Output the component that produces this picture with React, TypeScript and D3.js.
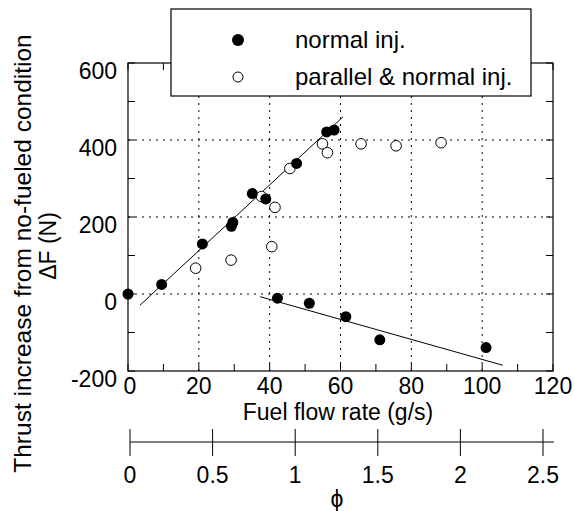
import React from "react";
import * as d3 from "d3";

// ---- data ----
const normalX = [0, 9.5, 21, 29.2, 29.6, 35.1, 38.9, 47.6, 56.1, 58.2, 42.2, 51.2, 61.5, 71.1, 101.1];
const normalY = [0, 25, 130, 176, 186, 261, 247, 339, 421, 426, -11, -24, -59, -119, -139];

const parallelX = [19.1, 29.1, 37.7, 41.5, 40.6, 45.7, 54.9, 56.3, 65.8, 75.7, 88.4];
const parallelY = [67, 88, 253, 225, 123, 326, 390, 367, 390, 385, 393];

// fitted lines (endpoints in data units)
const fit1X = [3.4, 60.7];
const fit1Y = [-29, 460];
const fit2X = [37.3, 105.8];
const fit2Y = [-7, -185];

const xTicks = [0, 20, 40, 60, 80, 100, 120];
const yTicks = [-200, 0, 200, 400, 600];
const xGrid = [20, 40, 60, 80, 100];
const yGrid = [0, 200, 400];
const phiTicks = [0, 0.5, 1, 1.5, 2, 2.5];

const legendLabels = ["normal inj.", "parallel & normal inj."];

export default function App() {
  const W = 575, H = 511;
  const L = 128, R = 553, T = 63, B = 371;
  const x = d3.scaleLinear().domain([0, 120]).range([L, R]);
  const y = d3.scaleLinear().domain([-200, 600]).range([B, T]);
  const phi = d3.scaleLinear().domain([0, 2.5]).range([130, 543]);
  const font = "'Liberation Sans', Arial, Helvetica, sans-serif";
  const tickLen = 7;
  const minorX = d3.range(0, 121, 10);
  const minorY = d3.range(-200, 601, 100);
  const line = d3.line<[number, number]>().x((d) => x(d[0])).y((d) => y(d[1]));
  const fit1: [number, number][] = fit1X.map((v, i) => [v, fit1Y[i]]);
  const fit2: [number, number][] = fit2X.map((v, i) => [v, fit2Y[i]]);
  const phiY = 442;

  return (
    <svg
      width={W}
      height={H}
      style={{ position: "absolute", left: 0, top: 0, background: "#fff" }}
      fontFamily={font}
    >
      <rect x={0} y={0} width={W} height={H} fill="#fff" />
      {/* grid */}
      {xGrid.map((v) => (
        <line key={"gx" + v} x1={x(v)} x2={x(v)} y1={B} y2={T} stroke="#000" strokeWidth={1} strokeDasharray="2,5" />
      ))}
      {yGrid.map((v) => (
        <line key={"gy" + v} x1={L} x2={R} y1={y(v)} y2={y(v)} stroke="#000" strokeWidth={1} strokeDasharray="2,5" />
      ))}
      {/* frame */}
      <rect x={L} y={T} width={R - L} height={B - T} fill="none" stroke="#000" strokeWidth={1.2} />
      {/* ticks */}
      {minorX.map((v) => (
        <g key={"tx" + v}>
          <line x1={x(v)} x2={x(v)} y1={B} y2={B - tickLen} stroke="#000" />
          <line x1={x(v)} x2={x(v)} y1={T} y2={T + tickLen} stroke="#000" />
        </g>
      ))}
      {minorY.map((v) => (
        <g key={"ty" + v}>
          <line x1={L} x2={L + tickLen} y1={y(v)} y2={y(v)} stroke="#000" />
          <line x1={R} x2={R - tickLen} y1={y(v)} y2={y(v)} stroke="#000" />
        </g>
      ))}
      {/* tick labels */}
      {xTicks.map((v) => (
        <text key={"lx" + v} x={x(v) + (v === 0 ? 2 : 0)} y={394} fontSize={23} textAnchor="middle">
          {v}
        </text>
      ))}
      {yTicks.map((v) => (
        <text key={"ly" + v} x={117} y={y(v) + 16} fontSize={23} textAnchor="end">
          {v}
        </text>
      ))}
      {/* axis titles */}
      <text x={338} y={420} fontSize={23} textAnchor="middle">
        Fuel flow rate (g/s)
      </text>
      <text transform="translate(31,253.5) rotate(-90)" fontSize={24.5} textAnchor="middle">
        Thrust increase from no-fueled condition
      </text>
      <text transform="translate(56,246) rotate(-90)" fontSize={23} textAnchor="middle">
        ΔF (N)
      </text>
      {/* fit lines */}
      <path d={line(fit1) || ""} fill="none" stroke="#000" strokeWidth={1} />
      <path d={line(fit2) || ""} fill="none" stroke="#000" strokeWidth={1} />
      {/* points */}
      {parallelX.map((v, i) => (
        <circle key={"p" + i} cx={x(v)} cy={y(parallelY[i])} r={5.3} fill="#fff" stroke="#000" strokeWidth={1} />
      ))}
      {normalX.map((v, i) => (
        <circle key={"n" + i} cx={x(v)} cy={y(normalY[i])} r={5.5} fill="#000" />
      ))}
      {/* legend */}
      <rect x={171} y={9} width={360} height={87} fill="#fff" stroke="#000" strokeWidth={1.2} />
      <circle cx={238} cy={40} r={6} fill="#000" />
      <circle cx={238} cy={77} r={5} fill="#fff" stroke="#000" strokeWidth={1} />
      <text x={295} y={48} fontSize={24}>
        {legendLabels[0]}
      </text>
      <text x={295} y={85} fontSize={24}>
        {legendLabels[1]}
      </text>
      {/* phi axis */}
      <line x1={phi(0)} x2={554} y1={phiY} y2={phiY} stroke="#000" strokeWidth={1} />
      {phiTicks.map((v) => (
        <g key={"phi" + v}>
          <line x1={phi(v)} x2={phi(v)} y1={phiY - 13} y2={phiY + 14} stroke="#000" />
          <text x={phi(v)} y={483} fontSize={23} textAnchor="middle">
            {v}
          </text>
        </g>
      ))}
      <text x={337} y={507} fontSize={23} textAnchor="middle">
        ϕ
      </text>
    </svg>
  );
}
